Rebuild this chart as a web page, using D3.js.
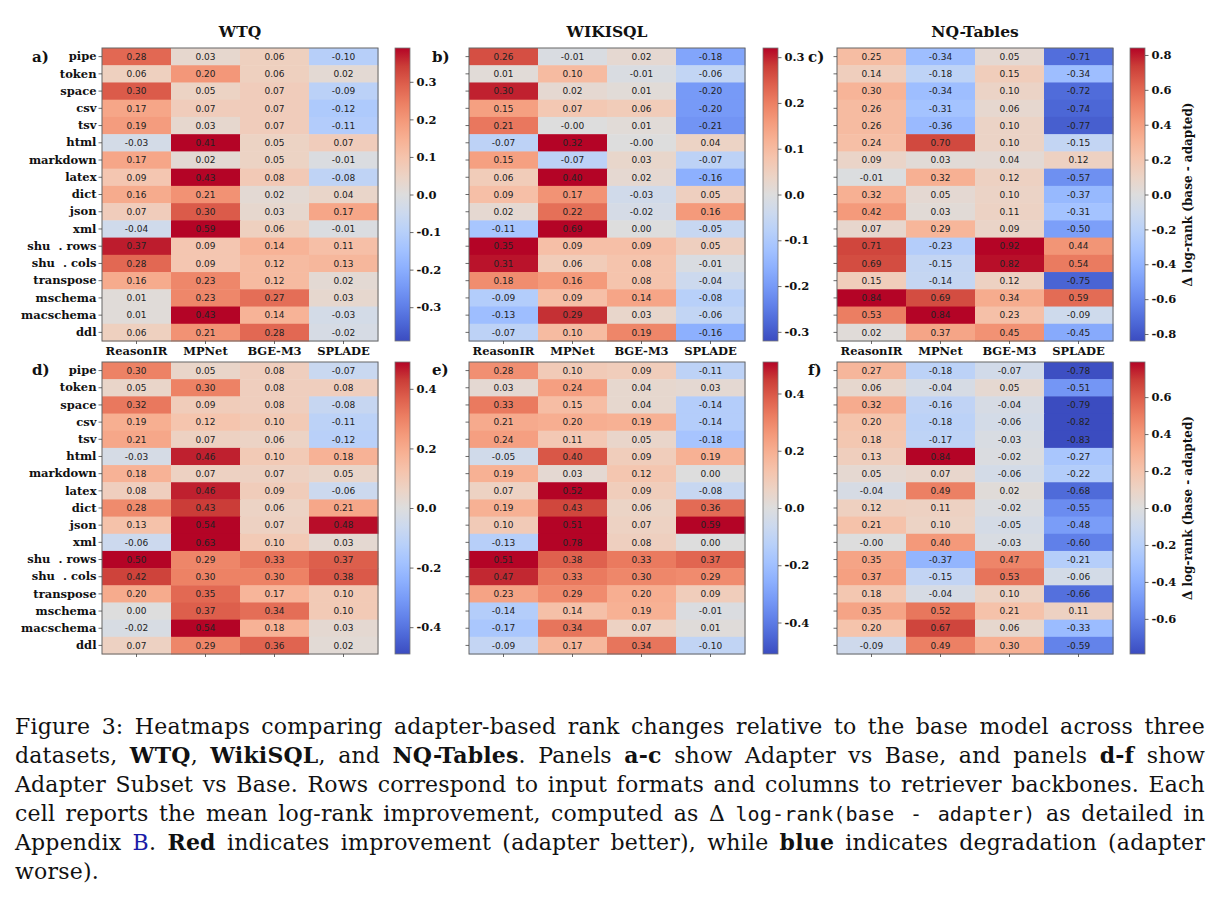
<!DOCTYPE html>
<html>
<head>
<meta charset="utf-8">
<script src="https://cdn.jsdelivr.net/npm/d3@7"></script>
<style>
  body { margin: 0; background: #fff; }
</style>
</head>
<body>
<div id="chart"></div>
<script>
// Rows / columns
const formats = ["pipe", "token", "space", "csv", "tsv", "html", "markdown", "latex", "dict",
    "json", "xml", "shu  . rows", "shu  . cols", "transpose", "mschema", "macschema", "ddl"];
const retrievers = ["ReasonIR", "MPNet", "BGE-M3", "SPLADE"];
const datasets = ["WTQ", "WIKISQL", "NQ-Tables"];
const panelLetters = ["a)", "b)", "c)", "d)", "e)", "f)"];

// Adapter vs Base (panels a-c), one row per format, columns = retrievers
const wtqAdapter = [
    [0.28, 0.03, 0.06, -0.10], [0.06, 0.20, 0.06, 0.02], [0.30, 0.05, 0.07, -0.09],
    [0.17, 0.07, 0.07, -0.12], [0.19, 0.03, 0.07, -0.11], [-0.03, 0.41, 0.05, 0.07],
    [0.17, 0.02, 0.05, -0.01], [0.09, 0.43, 0.08, -0.08], [0.16, 0.21, 0.02, 0.04],
    [0.07, 0.30, 0.03, 0.17], [-0.04, 0.59, 0.06, -0.01], [0.37, 0.09, 0.14, 0.11],
    [0.28, 0.09, 0.12, 0.13], [0.16, 0.23, 0.12, 0.02], [0.01, 0.23, 0.27, 0.03],
    [0.01, 0.43, 0.14, -0.03], [0.06, 0.21, 0.28, -0.02]
];
const wikisqlAdapter = [
    [0.26, -0.01, 0.02, -0.18], [0.01, 0.10, -0.01, -0.06], [0.30, 0.02, 0.01, -0.20],
    [0.15, 0.07, 0.06, -0.20], [0.21, -0.00, 0.01, -0.21], [-0.07, 0.32, -0.00, 0.04],
    [0.15, -0.07, 0.03, -0.07], [0.06, 0.40, 0.02, -0.16], [0.09, 0.17, -0.03, 0.05],
    [0.02, 0.22, -0.02, 0.16], [-0.11, 0.69, 0.00, -0.05], [0.35, 0.09, 0.09, 0.05],
    [0.31, 0.06, 0.08, -0.01], [0.18, 0.16, 0.08, -0.04], [-0.09, 0.09, 0.14, -0.08],
    [-0.13, 0.29, 0.03, -0.06], [-0.07, 0.10, 0.19, -0.16]
];
const nqAdapter = [
    [0.25, -0.34, 0.05, -0.71], [0.14, -0.18, 0.15, -0.34], [0.30, -0.34, 0.10, -0.72],
    [0.26, -0.31, 0.06, -0.74], [0.26, -0.36, 0.10, -0.77], [0.24, 0.70, 0.10, -0.15],
    [0.09, 0.03, 0.04, 0.12], [-0.01, 0.32, 0.12, -0.57], [0.32, 0.05, 0.10, -0.37],
    [0.42, 0.03, 0.11, -0.31], [0.07, 0.29, 0.09, -0.50], [0.71, -0.23, 0.92, 0.44],
    [0.69, -0.15, 0.82, 0.54], [0.15, -0.14, 0.12, -0.75], [0.84, 0.69, 0.34, 0.59],
    [0.53, 0.84, 0.23, -0.09], [0.02, 0.37, 0.45, -0.45]
];

// Adapter Subset vs Base (panels d-f)
const wtqSubset = [
    [0.30, 0.05, 0.08, -0.07], [0.05, 0.30, 0.08, 0.08], [0.32, 0.09, 0.08, -0.08],
    [0.19, 0.12, 0.10, -0.11], [0.21, 0.07, 0.06, -0.12], [-0.03, 0.46, 0.10, 0.18],
    [0.18, 0.07, 0.07, 0.05], [0.08, 0.46, 0.09, -0.06], [0.28, 0.43, 0.06, 0.21],
    [0.13, 0.54, 0.07, 0.48], [-0.06, 0.63, 0.10, 0.03], [0.50, 0.29, 0.33, 0.37],
    [0.42, 0.30, 0.30, 0.38], [0.20, 0.35, 0.17, 0.10], [0.00, 0.37, 0.34, 0.10],
    [-0.02, 0.54, 0.18, 0.03], [0.07, 0.29, 0.36, 0.02]
];
const wikisqlSubset = [
    [0.28, 0.10, 0.09, -0.11], [0.03, 0.24, 0.04, 0.03], [0.33, 0.15, 0.04, -0.14],
    [0.21, 0.20, 0.19, -0.14], [0.24, 0.11, 0.05, -0.18], [-0.05, 0.40, 0.09, 0.19],
    [0.19, 0.03, 0.12, 0.00], [0.07, 0.52, 0.09, -0.08], [0.19, 0.43, 0.06, 0.36],
    [0.10, 0.51, 0.07, 0.59], [-0.13, 0.78, 0.08, 0.00], [0.51, 0.38, 0.33, 0.37],
    [0.47, 0.33, 0.30, 0.29], [0.23, 0.29, 0.20, 0.09], [-0.14, 0.14, 0.19, -0.01],
    [-0.17, 0.34, 0.07, 0.01], [-0.09, 0.17, 0.34, -0.10]
];
const nqSubset = [
    [0.27, -0.18, -0.07, -0.78], [0.06, -0.04, 0.05, -0.51], [0.32, -0.16, -0.04, -0.79],
    [0.20, -0.18, -0.06, -0.82], [0.18, -0.17, -0.03, -0.83], [0.13, 0.84, -0.02, -0.27],
    [0.05, 0.07, -0.06, -0.22], [-0.04, 0.49, 0.02, -0.68], [0.12, 0.11, -0.02, -0.55],
    [0.21, 0.10, -0.05, -0.48], [-0.00, 0.40, -0.03, -0.60], [0.35, -0.37, 0.47, -0.21],
    [0.37, -0.15, 0.53, -0.06], [0.18, -0.04, 0.10, -0.66], [0.35, 0.52, 0.21, 0.11],
    [0.20, 0.67, 0.06, -0.33], [-0.09, 0.49, 0.30, -0.59]
];

// colour limits (symmetric) and colourbar ticks per panel
const colorLimits = [0.39, 0.32, 0.84, 0.49, 0.51, 0.79];
const cbarTicks = [
    [-0.3, -0.2, -0.1, 0, 0.1, 0.2, 0.3],
    [-0.3, -0.2, -0.1, 0, 0.1, 0.2, 0.3],
    [-0.8, -0.6, -0.4, -0.2, 0, 0.2, 0.4, 0.6, 0.8],
    [-0.4, -0.2, 0, 0.2, 0.4],
    [-0.4, -0.2, 0, 0.2, 0.4],
    [-0.6, -0.4, -0.2, 0, 0.2, 0.4, 0.6]
];
const panels = [wtqAdapter, wikisqlAdapter, nqAdapter, wtqSubset, wikisqlSubset, nqSubset];

// coolwarm (Moreland) control colours
const coolwarm = ["#3b4cc0", "#4d68d7", "#6282ea", "#779af7", "#8db0fe", "#a3c2ff", "#b8d0f9",
    "#ccd9ee", "#dddddd", "#ecd3c5", "#f5c4ad", "#f7b194", "#f49a7b", "#ec7f63", "#de604d",
    "#cb3e38", "#b40426"];

const width = 1222, height = 908;
const svg = d3.select("#chart").append("svg")
    .attr("width", width)
    .attr("height", height)
    .style("font-family", "'DejaVu Serif', serif");

// vertical gradient for the colourbars (bottom = cold)
const grad = svg.append("defs").append("linearGradient")
    .attr("id", "cw").attr("x1", 0).attr("y1", 1).attr("x2", 0).attr("y2", 0);
grad.selectAll("stop").data(coolwarm).enter().append("stop")
    .attr("offset", (d, i) => i / (coolwarm.length - 1))
    .attr("stop-color", d => d);

const rowSpan = [[48, 341], [362, 654]];
const heatX = [[102, 378], [469, 745], [837, 1113]];
const cbarX = [395, 763, 1130];
const cbarW = 15;
const letterX = [32, 432, 808];
const letterY = [62, 375];

const fmt = v => (Object.is(v, -0) ? "-" : "") + v.toFixed(2);
const fmtTick = v => v.toFixed(1);

panels.forEach((vals, i) => {
    const r = Math.floor(i / 3), c = i % 3;
    const vmax = colorLimits[i];
    const x = d3.scaleBand().domain(retrievers).range(heatX[c]);
    const y = d3.scaleBand().domain(formats).range(rowSpan[r]);
    const color = d3.scaleLinear()
        .domain(coolwarm.map((d, k) => -vmax + 2 * vmax * k / (coolwarm.length - 1)))
        .range(coolwarm)
        .clamp(true);

    const g = svg.append("g");
    const cells = [];
    vals.forEach((row, ri) => row.forEach((v, ci) => cells.push({ f: formats[ri], m: retrievers[ci], v })));

    g.selectAll("rect.cell").data(cells).enter().append("rect")
        .attr("class", "cell")
        .attr("x", d => x(d.m))
        .attr("y", d => y(d.f))
        .attr("width", x.bandwidth() + 0.5)
        .attr("height", y.bandwidth() + 0.5)
        .attr("fill", d => color(d.v));

    g.selectAll("text.val").data(cells).enter().append("text")
        .attr("class", "val")
        .attr("x", d => x(d.m) + x.bandwidth() / 2)
        .attr("y", d => y(d.f) + y.bandwidth() / 2)
        .attr("dy", "0.36em")
        .attr("text-anchor", "middle")
        .style("font-family", "'DejaVu Sans', sans-serif")
        .style("font-size", "9px")
        .attr("fill", "#222")
        .text(d => fmt(d.v));

    g.append("rect")
        .attr("x", heatX[c][0]).attr("y", rowSpan[r][0])
        .attr("width", heatX[c][1] - heatX[c][0])
        .attr("height", rowSpan[r][1] - rowSpan[r][0])
        .attr("fill", "none").attr("stroke", "#666").attr("stroke-width", 1);

    // y axis
    const yAxis = g.append("g")
        .attr("transform", `translate(${heatX[c][0]},0)`)
        .call(d3.axisLeft(y).tickSize(3.5).tickPadding(2).tickFormat(c === 0 ? null : ""));
    yAxis.select(".domain").remove();
    yAxis.selectAll("line").attr("stroke", "#444").attr("stroke-width", 0.8);
    yAxis.selectAll("text")
        .style("font-family", "'DejaVu Serif', serif")
        .style("font-size", "11.5px")
        .style("font-weight", "bold")
        .style("white-space", "pre")
        .attr("fill", "#111");

    // x axis
    const xAxis = g.append("g")
        .attr("transform", `translate(0,${rowSpan[r][1]})`)
        .call(d3.axisBottom(x).tickSize(3).tickPadding(3).tickFormat(r === 0 ? null : ""));
    xAxis.select(".domain").remove();
    xAxis.selectAll("line").attr("stroke", "#444").attr("stroke-width", 0.8);
    xAxis.selectAll("text")
        .style("font-family", "'DejaVu Serif', serif")
        .style("font-size", "11.5px")
        .style("font-weight", "bold")
        .attr("fill", "#111");

    // title
    if (r === 0) {
        svg.append("text")
            .attr("x", (heatX[c][0] + heatX[c][1]) / 2)
            .attr("y", 37)
            .attr("text-anchor", "middle")
            .style("font-size", "15.5px")
            .style("font-weight", "bold")
            .attr("fill", "#111")
            .text(datasets[c]);
    }

    // panel letter
    svg.append("text")
        .attr("x", letterX[c]).attr("y", letterY[r])
        .style("font-size", "15px")
        .style("font-weight", "bold")
        .attr("fill", "#111")
        .text(panelLetters[i]);

    // colourbar
    const cb = d3.scaleLinear().domain([-vmax, vmax]).range([rowSpan[r][1], rowSpan[r][0]]);
    svg.append("rect")
        .attr("x", cbarX[c]).attr("y", rowSpan[r][0])
        .attr("width", cbarW).attr("height", rowSpan[r][1] - rowSpan[r][0])
        .attr("fill", "url(#cw)").attr("stroke", "#777").attr("stroke-width", 0.8);
    const cAxis = svg.append("g")
        .attr("transform", `translate(${cbarX[c] + cbarW},0)`)
        .call(d3.axisRight(cb).tickValues(cbarTicks[i]).tickSize(3.5).tickPadding(3).tickFormat(fmtTick));
    cAxis.select(".domain").remove();
    cAxis.selectAll("line").attr("stroke", "#444").attr("stroke-width", 0.8);
    cAxis.selectAll("text")
        .style("font-family", "'DejaVu Serif', serif")
        .style("font-size", "11.5px")
        .style("font-weight", "bold")
        .attr("fill", "#111");

    if (c === 2) {
        const cy = (rowSpan[r][0] + rowSpan[r][1]) / 2;
        svg.append("text")
            .attr("transform", `translate(1192,${cy}) rotate(-90)`)
            .attr("text-anchor", "middle")
            .style("font-size", "12px")
            .style("font-weight", "bold")
            .attr("fill", "#111")
            .text("\u0394 log-rank (base - adapted)");
    }
});

// caption, justified by widening the word gaps
const capLines = [
    [["Figure 3: Heatmaps comparing adapter-based rank changes relative to the base model across three", ""]],
    [["datasets, ", ""], ["WTQ", "b"], [", ", ""], ["WikiSQL", "b"], [", and ", ""], ["NQ-Tables", "b"],
     [". Panels ", ""], ["a-c", "b"], [" show Adapter vs Base, and panels ", ""], ["d-f", "b"], [" show", ""]],
    [["Adapter Subset vs Base. Rows correspond to input formats and columns to retriever backbones. Each", ""]],
    [["cell reports the mean log-rank improvement, computed as \u0394 ", ""], ["log-rank(base - adapter)", "m"],
     [" as detailed in", ""]],
    [["Appendix ", ""], ["B", "l"], [". ", ""], ["Red", "b"],
     [" indicates improvement (adapter better), while ", ""], ["blue", "b"], [" indicates degradation (adapter", ""]],
    [["worse).", ""]]
];
const capWidth = 1190;
const cap = svg.append("g")
    .style("font-family", "'DejaVu Serif', serif")
    .style("font-size", "22px")
    .style("letter-spacing", "0.2px")
    .attr("fill", "#111");
capLines.forEach((segs, li) => {
    const t = cap.append("text")
        .attr("x", 15)
        .attr("y", 734 + li * 29)
        .style("white-space", "pre");
    segs.forEach(([s, k]) => {
        const ts = t.append("tspan").text(s);
        if (k === "b") ts.style("font-weight", "bold");
        if (k === "m") ts.style("font-family", "'DejaVu Sans Mono', monospace").style("font-size", "20px");
        if (k === "l") ts.attr("fill", "#1b1ba8");
    });
    if (li < capLines.length - 1) {
        const natural = t.node().getComputedTextLength();
        const gaps = segs.map(s => s[0]).join("").split(" ").length - 1;
        t.style("word-spacing", Math.max(0, (capWidth - natural) / gaps) + "px");
    }
});
</script>
</body>
</html>
